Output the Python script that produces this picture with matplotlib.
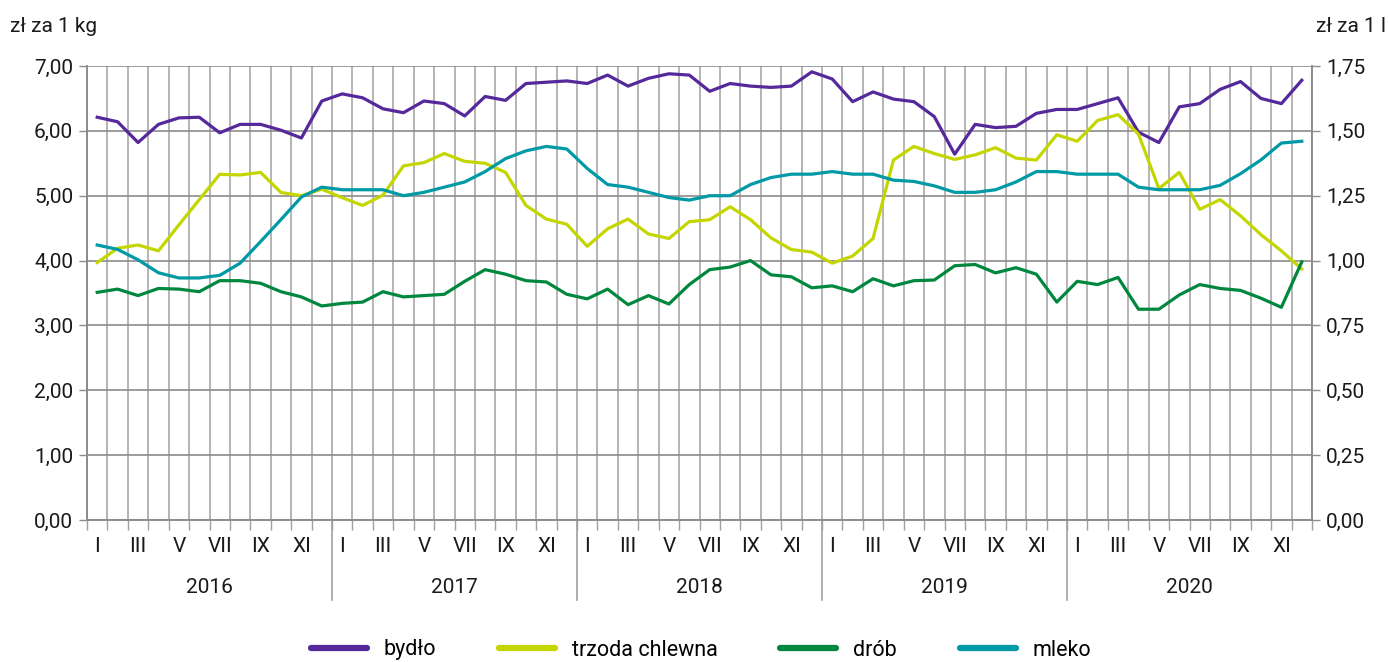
import matplotlib
matplotlib.use("Agg")
import matplotlib.pyplot as plt
from matplotlib.ticker import FixedLocator, FuncFormatter
from matplotlib.lines import Line2D
import matplotlib.transforms as mtransforms

plt.rcParams['font.family'] = ['Roboto', 'DejaVu Sans']

years = ["2016", "2017", "2018", "2019", "2020"]
month_labels = ["I", "", "III", "", "V", "", "VII", "", "IX", "", "XI", ""]

bydlo = [6.21, 6.14, 5.82, 6.10, 6.20, 6.21, 5.97, 6.10, 6.10, 6.01, 5.89, 6.46,
         6.57, 6.51, 6.34, 6.28, 6.46, 6.42, 6.23, 6.53, 6.47, 6.73, 6.75, 6.77,
         6.73, 6.86, 6.69, 6.81, 6.88, 6.86, 6.61, 6.73, 6.69, 6.67, 6.69, 6.91,
         6.80, 6.45, 6.60, 6.49, 6.45, 6.22, 5.64, 6.10, 6.05, 6.07, 6.27, 6.33,
         6.33, 6.42, 6.51, 5.98, 5.82, 6.37, 6.42, 6.64, 6.76, 6.50, 6.42, 6.78]

trzoda = [3.97, 4.19, 4.24, 4.15, 4.55, 4.94, 5.33, 5.32, 5.36, 5.05, 5.00, 5.10,
          4.97, 4.85, 5.01, 5.46, 5.51, 5.65, 5.53, 5.50, 5.36, 4.85, 4.64, 4.56,
          4.22, 4.49, 4.64, 4.41, 4.34, 4.60, 4.63, 4.83, 4.63, 4.35, 4.17, 4.13,
          3.96, 4.07, 4.34, 5.55, 5.76, 5.65, 5.56, 5.63, 5.74, 5.58, 5.55, 5.94,
          5.84, 6.16, 6.25, 5.95, 5.11, 5.36, 4.79, 4.94, 4.69, 4.40, 4.15, 3.87]

drob = [3.51, 3.56, 3.46, 3.57, 3.56, 3.52, 3.69, 3.69, 3.65, 3.52, 3.44, 3.30,
        3.34, 3.36, 3.52, 3.44, 3.46, 3.48, 3.68, 3.86, 3.79, 3.69, 3.67, 3.48,
        3.41, 3.56, 3.32, 3.46, 3.33, 3.63, 3.86, 3.90, 4.00, 3.78, 3.75, 3.58,
        3.61, 3.52, 3.72, 3.61, 3.69, 3.70, 3.92, 3.94, 3.81, 3.89, 3.79, 3.36,
        3.68, 3.63, 3.74, 3.25, 3.25, 3.47, 3.63, 3.57, 3.54, 3.42, 3.28, 3.98]

# mleko in zł za 1 l (right axis)
mleko = [1.060, 1.043, 1.003, 0.953, 0.933, 0.933, 0.943, 0.990, 1.073, 1.158, 1.245, 1.283,
         1.273, 1.273, 1.273, 1.250, 1.263, 1.283, 1.303, 1.343, 1.393, 1.423, 1.440, 1.430,
         1.355, 1.293, 1.283, 1.263, 1.243, 1.233, 1.250, 1.250, 1.293, 1.320, 1.333, 1.333,
         1.343, 1.333, 1.333, 1.310, 1.305, 1.288, 1.263, 1.263, 1.273, 1.303, 1.343, 1.343,
         1.333, 1.333, 1.333, 1.283, 1.273, 1.273, 1.273, 1.290, 1.335, 1.388, 1.453, 1.460]

series_names = ["bydło", "trzoda chlewna", "drób", "mleko"]
colors = ["#55289b", "#c4d600", "#00873e", "#0099a6"]

W, H = 1388, 662
fig = plt.figure(figsize=(W / 100, H / 100), dpi=100)
L, R, T, B = 87, 1312, 66, 520
ax = fig.add_axes([L / W, 1 - B / H, (R - L) / W, (B - T) / H])
ax2 = ax.twinx()

n = len(bydlo)
x = list(range(n))
lw = 2.3
ax.plot(x, bydlo, color=colors[0], lw=lw, zorder=3)
ax.plot(x, trzoda, color=colors[1], lw=lw, zorder=3)
ax.plot(x, drob, color=colors[2], lw=lw, zorder=3)
ax2.plot(x, mleko, color=colors[3], lw=lw, zorder=3)

ax.set_xlim(-0.5, n - 0.5)
ax.set_ylim(0, 7)
ax2.set_ylim(0, 1.75)

fmt = FuncFormatter(lambda v, p: f"{v:.2f}".replace(".", ","))
ax.yaxis.set_major_locator(FixedLocator([0, 1, 2, 3, 4, 5, 6, 7]))
ax2.yaxis.set_major_locator(FixedLocator([0, 0.25, 0.5, 0.75, 1.0, 1.25, 1.5, 1.75]))
ax.yaxis.set_major_formatter(fmt)
ax2.yaxis.set_major_formatter(fmt)

# x ticks: labels at month centers, minor ticks at boundaries
ax.xaxis.set_major_locator(FixedLocator(x))
ax.set_xticklabels(month_labels * len(years))
ax.xaxis.set_minor_locator(FixedLocator([i - 0.5 for i in range(n + 1)]))
ax.tick_params(axis='x', which='major', length=0, pad=12, labelsize=15, labelcolor='#1a1a1a')
ax.tick_params(axis='x', which='minor', length=7, width=1, color='#a0a0a0', direction='out')
for a in (ax, ax2):
    a.tick_params(axis='y', which='major', length=6, width=1, color='#8c8c8c',
                  labelsize=15, pad=4, labelcolor='#1a1a1a')

ax.grid(True, axis='y', which='major', color='#8c8c8c', lw=1.2, zorder=1)
ax.grid(True, axis='x', which='minor', color='#a8a8a8', lw=1.2, zorder=1)
ax.set_axisbelow(True)

for a in (ax, ax2):
    for s in a.spines.values():
        s.set_color('#8c8c8c')
        s.set_linewidth(1.2)
    a.spines['top'].set_visible(False)

# year labels and separators
trans = mtransforms.blended_transform_factory(ax.transData, ax.transAxes)
for k, yr in enumerate(years):
    ax.text(k * 12 + 5.5, -0.149, yr, transform=trans, ha='center', va='center',
            fontsize=15, color='#1a1a1a')
    if k > 0:
        ax.add_line(Line2D([k * 12 - 0.5, k * 12 - 0.5], [0, -0.177], transform=trans,
                           color='#a0a0a0', lw=1.2, clip_on=False))

fig.text(10 / W, 1 - 27 / H, "zł za 1 kg", ha='left', va='center', fontsize=15, color='#1a1a1a')
fig.text(1386 / W, 1 - 27 / H, "zł za 1 l", ha='right', va='center', fontsize=15, color='#1a1a1a')

handles = [Line2D([0], [0], color=c, lw=4.5, solid_capstyle='round') for c in colors]
fig.legend(handles, series_names, loc='center', bbox_to_anchor=(0.505, 1 - 650 / H), ncol=4,
           frameon=False, fontsize=15.5, handlelength=2.6, columnspacing=2.9, handletextpad=0.8)

fig.savefig("out.png", dpi=100)
